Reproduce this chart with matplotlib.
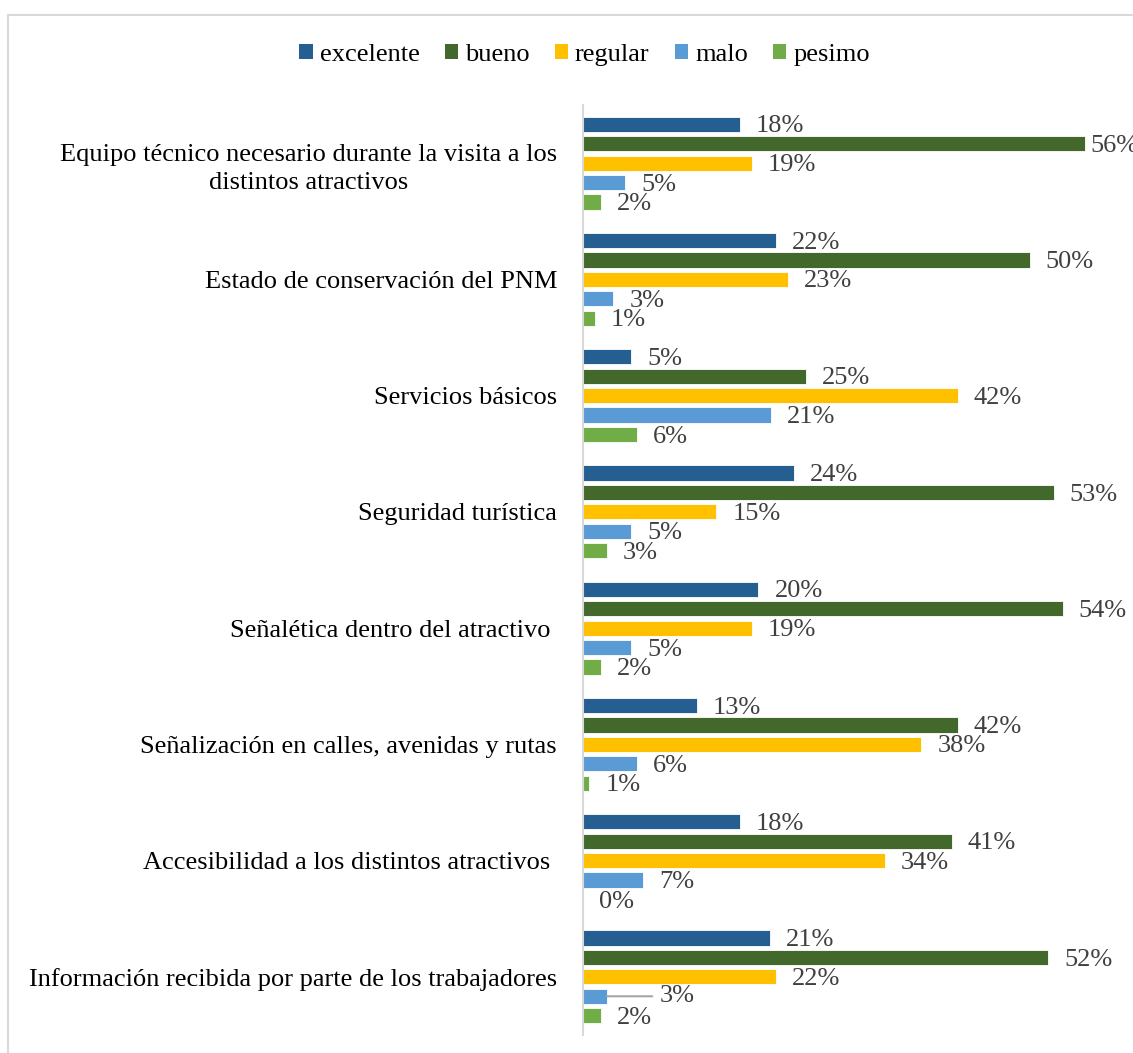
import numpy as np
import matplotlib
matplotlib.use('Agg')
from matplotlib import pyplot as plt
from matplotlib.patches import Rectangle, Patch

plt.rcParams['font.family'] = ['Liberation Serif', 'DejaVu Serif']

# data (percent)
categories = [
    'Equipo técnico necesario durante la visita a los\ndistintos atractivos',
    'Estado de conservación del PNM',
    'Servicios básicos',
    'Seguridad turística',
    'Señalética dentro del atractivo ',
    'Señalización en calles, avenidas y rutas',
    'Accesibilidad a los distintos atractivos ',
    'Información recibida por parte de los trabajadores',
]
excelente = [17.5, 21.6, 5.4, 23.6, 19.6, 12.7, 17.5, 20.9]
bueno = [56.1, 49.9, 24.9, 52.6, 53.6, 41.9, 41.2, 52.0]
regular = [18.9, 22.9, 41.9, 14.9, 18.9, 37.8, 33.7, 21.6]
malo = [4.7, 3.4, 21.0, 5.4, 5.4, 6.0, 6.7, 2.7]
pesimo = [2.0, 1.3, 6.0, 2.7, 2.0, 0.7, 0.0, 2.0]

series_names = ['excelente', 'bueno', 'regular', 'malo', 'pesimo']
series_vals = [excelente, bueno, regular, malo, pesimo]
colors = ['#255E91', '#43682B', '#FFC000', '#5B9BD5', '#70AD47']

W, H = 1133, 1053
fig = plt.figure(figsize=(W / 100, H / 100), dpi=100)
ax = fig.add_axes([583 / W, 1 - 1035 / H, 537 / W, 930 / H])

fs = 19
step = 0.167
bar_h = 0.13
ypos = np.arange(len(categories))

# label offsets (points) that Excel moved
offsets = {(0, 1): 3.5, (7, 3): 37.5}

for j, (name, vals) in enumerate(zip(series_names, series_vals)):
    y = ypos + (j - 2) * step
    ax.barh(y, vals, height=bar_h, color=colors[j], label=name,
            edgecolor='white', linewidth=0.6)
    for i, v in enumerate(vals):
        off = offsets.get((i, j), 11.5)
        arrow = None
        dy = -1.5
        if (i, j) == (7, 3):
            dy = 0
            arrow = dict(arrowstyle='-', color='#a6a6a6', lw=1.5,
                         relpos=(0, 0.5), shrinkA=3, shrinkB=0)
        ax.annotate(f'{round(v)}%', xy=(v, y[i]), xytext=(off, dy),
                    textcoords='offset points', va='center', ha='left',
                    fontsize=fs, color='#404040', annotation_clip=False,
                    arrowprops=arrow)

ax.set_xlim(0, 60)
ax.set_ylim(len(categories) - 0.5, -0.5)
ax.set_xticks([])
ax.set_yticks(ypos, categories)
ax.tick_params(axis='y', length=0, pad=18.7, labelsize=fs, labelcolor='black')
for t in ax.get_yticklabels():
    t.set_multialignment('center')
    t.set_linespacing(1.4)

for s in ['top', 'right', 'bottom']:
    ax.spines[s].set_visible(False)
ax.spines['left'].set_color('#d9d9d9')
ax.spines['left'].set_linewidth(1.5)

handles = [Patch(facecolor=c) for c in colors]
fig.legend(handles, series_names, loc='center', bbox_to_anchor=(0.516, 1 - 55 / H),
           ncol=5, frameon=False, fontsize=fs, handlelength=0.5, handleheight=0.5,
           handletextpad=0.27, columnspacing=0.95, borderaxespad=0)

# outer chart border (cropped on the right and bottom)
fig.add_artist(Rectangle((8 / W, -0.1), 1.2, 1.1 - 15 / H, transform=fig.transFigure,
                         fill=False, edgecolor='#d9d9d9', lw=1.5))

fig.savefig('out.png', dpi=100)
